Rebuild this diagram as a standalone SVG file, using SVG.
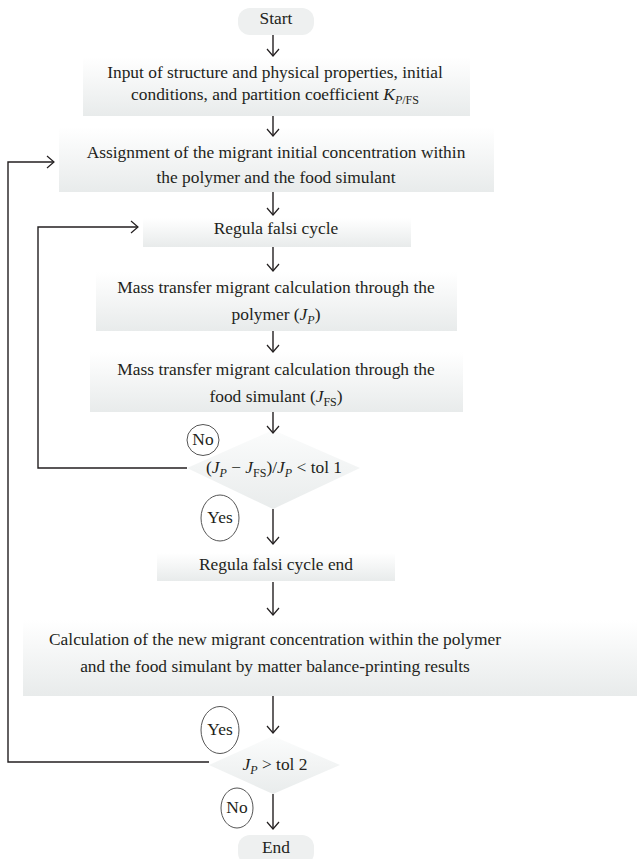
<svg xmlns="http://www.w3.org/2000/svg" width="637" height="859" viewBox="0 0 637 859">
<style>
text{font-family:"Liberation Serif","Times New Roman",serif;font-size:17.4px;fill:#231f20;text-anchor:middle}
.i{font-style:italic}
.s{font-size:12px}
.box{fill:url(#g)}
.term{fill:#eef0f0}
.dia{fill:url(#gd)}
.circ{fill:#fff;stroke:#555;stroke-width:1}
.ln{fill:none;stroke:#231f20;stroke-width:1.4}
</style>
<defs>
<linearGradient id="g" x1="0" y1="0" x2="0" y2="1">
<stop offset="0" stop-color="#ffffff"/>
<stop offset="1" stop-color="#e8ebeb"/>
</linearGradient>
<linearGradient id="gd" x1="0" y1="0" x2="0" y2="1">
<stop offset="0" stop-color="#fbfcfc"/>
<stop offset="1" stop-color="#e9ecec"/>
</linearGradient>
<marker id="a" markerWidth="14" markerHeight="14" refX="10" refY="7" orient="auto" markerUnits="userSpaceOnUse">
<path d="M3,1 L10,7 L3,13" fill="none" stroke="#231f20" stroke-width="1.2"/>
</marker>
</defs>

<g id="start">
<rect class="term" x="238" y="8" width="76" height="27" rx="12"/>
<text x="276" y="24">Start</text>
</g>

<g id="input">
<rect class="box" x="83" y="57" width="387" height="59"/>
<text x="275" y="78">Input of structure and physical properties, initial</text>
<text x="275" y="100">conditions, and partition coefficient <tspan class="i">K</tspan><tspan class="s" dy="4"><tspan class="i">P</tspan>/FS</tspan></text>
</g>

<g id="assign">
<rect class="box" x="59" y="127" width="435" height="65"/>
<text x="276" y="158">Assignment of the migrant initial concentration within</text>
<text x="276" y="183">the polymer and the food simulant</text>
</g>

<g id="regula">
<rect class="box" x="143" y="218" width="268" height="29"/>
<text x="276" y="234">Regula falsi cycle</text>
</g>

<g id="mass1">
<rect class="box" x="96" y="272" width="361" height="59"/>
<text x="276" y="293">Mass transfer migrant calculation through the</text>
<text x="276" y="320">polymer (<tspan class="i">J</tspan><tspan class="s i" dy="4">P</tspan><tspan dy="-4">)</tspan></text>
</g>

<g id="mass2">
<rect class="box" x="90" y="352" width="373" height="60"/>
<text x="276" y="375">Mass transfer migrant calculation through the</text>
<text x="276" y="402">food simulant (<tspan class="i">J</tspan><tspan class="s" dy="4">FS</tspan><tspan dy="-4">)</tspan></text>
</g>

<g id="dec1">
<polygon class="dia" points="273,430 360,468 273,509 187,468"/>
<text x="274" y="473">(<tspan class="i">J</tspan><tspan class="s i" dy="4">P</tspan><tspan dy="-4"> − </tspan><tspan class="i">J</tspan><tspan class="s" dy="4">FS</tspan><tspan dy="-4">)/</tspan><tspan class="i">J</tspan><tspan class="s i" dy="4">P</tspan><tspan dy="-4"> &lt; tol 1</tspan></text>
</g>

<g id="no1">
<ellipse class="circ" cx="203" cy="440" rx="16" ry="15.5"/>
<text x="203" y="445">No</text>
</g>

<g id="yes1">
<ellipse class="circ" cx="220" cy="518" rx="19" ry="23"/>
<text x="220" y="523">Yes</text>
</g>

<g id="regend">
<rect class="box" x="157" y="553" width="238" height="28"/>
<text x="276" y="570">Regula falsi cycle end</text>
</g>

<g id="calc">
<rect class="box" x="23" y="620" width="614" height="76"/>
<text x="275" y="645">Calculation of the new migrant concentration within the polymer</text>
<text x="275" y="672">and the food simulant by matter balance-printing results</text>
</g>

<g id="dec2">
<polygon class="dia" points="273,736 340,765 273,794 209,765"/>
<text x="275" y="770"><tspan class="i">J</tspan><tspan class="s i" dy="4">P</tspan><tspan dy="-4"> &gt; tol 2</tspan></text>
</g>

<g id="yes2">
<ellipse class="circ" cx="220" cy="730" rx="19" ry="23.5"/>
<text x="220" y="735">Yes</text>
</g>

<g id="no2">
<ellipse class="circ" cx="237" cy="808" rx="16" ry="20"/>
<text x="237" y="813">No</text>
</g>

<g id="end">
<rect class="term" x="238" y="835" width="76" height="30" rx="12"/>
<text x="276" y="853">End</text>
</g>

<g id="connectors">
<line class="ln" x1="273" y1="35" x2="273" y2="56" marker-end="url(#a)"/>
<line class="ln" x1="273" y1="116" x2="273" y2="136" marker-end="url(#a)"/>
<line class="ln" x1="273" y1="192" x2="273" y2="215" marker-end="url(#a)"/>
<line class="ln" x1="273" y1="247" x2="273" y2="271" marker-end="url(#a)"/>
<line class="ln" x1="273" y1="331" x2="273" y2="352" marker-end="url(#a)"/>
<line class="ln" x1="273" y1="412" x2="273" y2="433" marker-end="url(#a)"/>
<line class="ln" x1="273" y1="509" x2="273" y2="544" marker-end="url(#a)"/>
<line class="ln" x1="273" y1="582" x2="273" y2="615" marker-end="url(#a)"/>
<line class="ln" x1="273" y1="696" x2="273" y2="733" marker-end="url(#a)"/>
<line class="ln" x1="273" y1="794" x2="273" y2="829" marker-end="url(#a)"/>
<path class="ln" d="M187,468 H38 V227 H138" marker-end="url(#a)"/>
<path class="ln" d="M209,762 H8 V162 H54" marker-end="url(#a)"/>
</g>
</svg>
